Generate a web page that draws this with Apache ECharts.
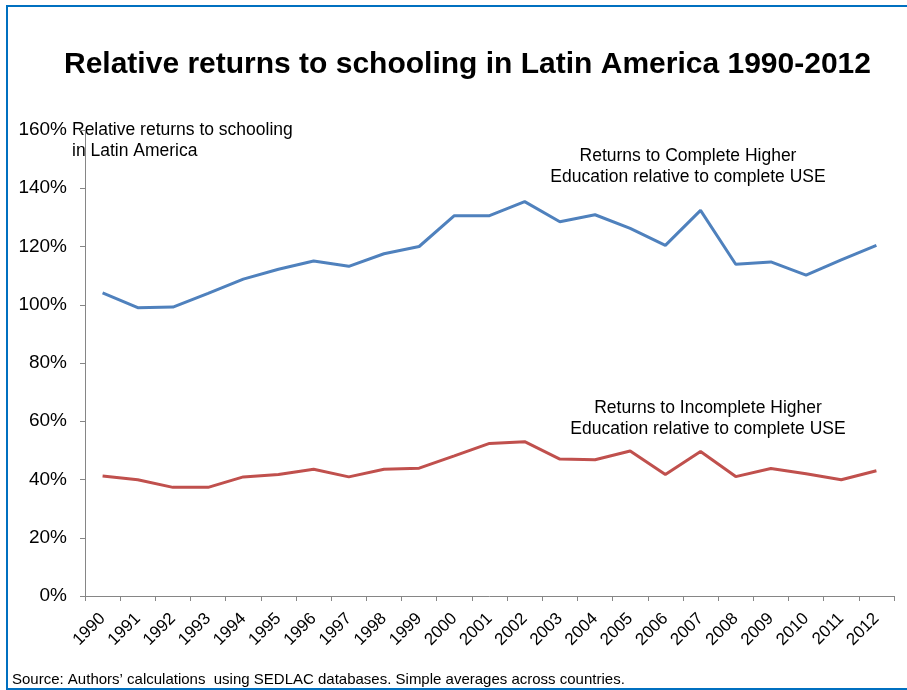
<!DOCTYPE html>
<html>
<head>
<meta charset="utf-8">
<script src="https://cdn.jsdelivr.net/npm/echarts@6/dist/echarts.min.js"></script>
<style>
  html, body { margin: 0; padding: 0; background: #fff; }
  #chart { width: 907px; height: 690px; }
</style>
</head>
<body>
<div id="chart"></div>
<script>
// Survey years
const years = ['1990','1991','1992','1993','1994','1995','1996','1997','1998','1999','2000',
               '2001','2002','2003','2004','2005','2006','2007','2008','2009','2010','2011','2012'];

// Returns to complete higher education relative to complete upper secondary (%)
const completeHigher = [104.1, 99.0, 99.2, 103.9, 108.8, 112.2, 115.0, 113.2, 117.5, 120.0, 130.6,
                        130.6, 135.4, 128.5, 130.9, 126.2, 120.4, 132.4, 113.9, 114.7, 110.2, 115.4, 120.4];

// Returns to incomplete higher education relative to complete upper secondary (%)
const incompleteHigher = [41.2, 39.9, 37.3, 37.3, 40.9, 41.7, 43.5, 40.9, 43.5, 43.9, 48.1,
                          52.4, 53.0, 47.0, 46.8, 49.8, 41.7, 49.6, 41.0, 43.8, 42.0, 39.9, 43.0];

const yTicks = [0, 20, 40, 60, 80, 100, 120, 140, 160];

const FONT = '"Liberation Sans", Arial, sans-serif';
const NOTE_FONT = '17.5px ' + FONT;

const chart = echarts.init(document.getElementById('chart'), null, { renderer: 'canvas' });

chart.setOption({
  backgroundColor: '#ffffff',
  animation: false,
  title: {
    text: 'Relative returns to schooling in Latin America 1990-2012',
    left: 59,
    top: 45,
    textStyle: { fontFamily: FONT, fontWeight: 'bold', fontSize: 30, color: '#000' }
  },
  grid: { left: 85, right: 13, top: 130, bottom: 94, containLabel: false },
  xAxis: {
    type: 'category',
    data: years,
    boundaryGap: true,
    axisLine: { lineStyle: { color: '#868686', width: 1 } },
    axisTick: { show: true, length: 5, lineStyle: { color: '#868686' } },
    axisLabel: {
      rotate: 45, interval: 0, margin: 20,
      fontFamily: FONT, fontSize: 17, color: '#000'
    },
    splitLine: { show: false }
  },
  yAxis: {
    type: 'value',
    min: yTicks[0],
    max: yTicks[yTicks.length - 1],
    interval: 20,
    axisLine: { show: true, lineStyle: { color: '#868686', width: 1 } },
    axisTick: { show: true, length: 5, lineStyle: { color: '#868686' } },
    axisLabel: {
      margin: 18,
      formatter: v => v + '%',
      fontFamily: FONT, fontSize: 19, color: '#000'
    },
    splitLine: { show: false }
  },
  series: [
    {
      name: 'Complete Higher',
      type: 'line',
      data: completeHigher,
      symbol: 'none',
      lineStyle: { color: '#4F81BD', width: 3 },
      itemStyle: { color: '#4F81BD' }
    },
    {
      name: 'Incomplete Higher',
      type: 'line',
      data: incompleteHigher,
      symbol: 'none',
      lineStyle: { color: '#C0504D', width: 3 },
      itemStyle: { color: '#C0504D' }
    }
  ],
  graphic: [
    // Frame around the figure
    {
      type: 'polyline',
      shape: { points: [[920, 6], [7, 6], [7, 689], [920, 689]] },
      style: { stroke: '#0070C0', lineWidth: 2, fill: null },
      silent: true
    },
    {
      type: 'text',
      x: 72, y: 141,
      style: {
        text: 'Relative returns to schooling\nin Latin America',
        font: NOTE_FONT, fill: '#000', lineHeight: 21,
        align: 'left', verticalAlign: 'middle'
      }
    },
    {
      type: 'text',
      x: 688, y: 167,
      style: {
        text: 'Returns to Complete Higher\nEducation relative to complete USE',
        font: NOTE_FONT, fill: '#000', lineHeight: 21,
        align: 'center', verticalAlign: 'middle'
      }
    },
    {
      type: 'text',
      x: 708, y: 419,
      style: {
        text: 'Returns to Incomplete Higher\nEducation relative to complete USE',
        font: NOTE_FONT, fill: '#000', lineHeight: 21,
        align: 'center', verticalAlign: 'middle'
      }
    },
    {
      type: 'text',
      x: 12, y: 680,
      style: {
        text: 'Source: Authors\u2019 calculations  using SEDLAC databases. Simple averages across countries.',
        font: '15px ' + FONT, fill: '#000', verticalAlign: 'middle'
      }
    }
  ]
});
</script>
</body>
</html>
